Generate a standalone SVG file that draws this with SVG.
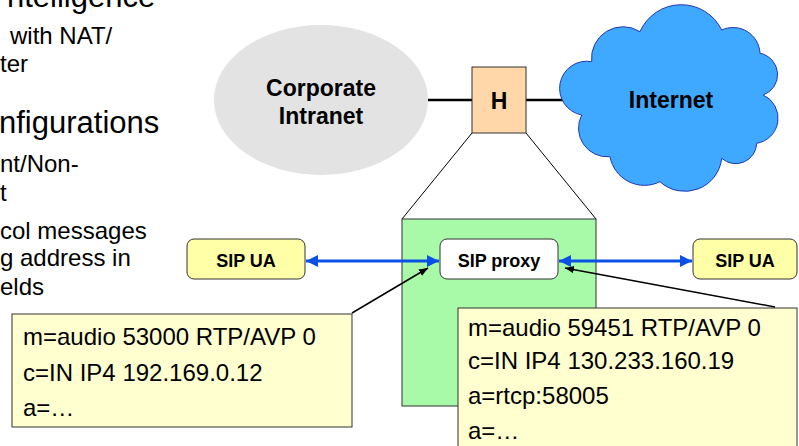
<svg xmlns="http://www.w3.org/2000/svg" width="799" height="446" viewBox="0 0 799 446">
<style>
.bt{font-family:"Liberation Sans",Arial,sans-serif;fill:#000}
.big{font-size:31px}
.sm{font-size:24px}
.lbl{font-family:"Liberation Sans",Arial,sans-serif;font-weight:bold;fill:#000;text-anchor:middle}
.sdp{font-family:"Liberation Sans",Arial,sans-serif;font-size:24px;fill:#000}
.box{stroke:#333;stroke-width:1}
.blue{stroke:#0a50e6;stroke-width:3;fill:none}
.blk{stroke:#000;stroke-width:1.5;fill:none}
</style>
<defs>
<marker id="bh" viewBox="0 0 10 10" refX="10" refY="5" markerWidth="4" markerHeight="4" orient="auto-start-reverse" markerUnits="strokeWidth">
<path d="M0,0 L10,5 L0,10 z" fill="#0a50e6"/>
</marker>
<marker id="kh" viewBox="0 0 10 10" refX="10" refY="5" markerWidth="6" markerHeight="6" orient="auto" markerUnits="strokeWidth">
<path d="M0,1 L10,5 L0,9 z" fill="#000"/>
</marker>
</defs>

<g id="bullets">
<text class="bt big" x="7" y="7">ntelligence</text>
<text class="bt sm" x="10" y="44">with NAT/</text>
<text class="bt sm" x="0" y="72">ter</text>
<text class="bt big" x="-1" y="133">nfigurations</text>
<text class="bt sm" x="0" y="172">nt/Non-</text>
<text class="bt sm" x="0" y="201">t</text>
<text class="bt sm" x="0" y="239">col messages</text>
<text class="bt sm" x="0" y="266">g address in</text>
<text class="bt sm" x="0" y="295">elds</text>
</g>

<g id="connectors">
<line x1="428" y1="100" x2="472" y2="100" stroke="#000" stroke-width="2.5"/>
<line x1="526" y1="100" x2="572" y2="100" stroke="#000" stroke-width="2.5"/>
<line x1="472" y1="133" x2="402" y2="219" stroke="#000" stroke-width="1"/>
<line x1="526" y1="133" x2="596" y2="219" stroke="#000" stroke-width="1"/>
</g>

<g id="corporate-intranet">
<ellipse cx="321" cy="100" rx="107" ry="75" fill="#e3e3e3"/>
<text class="lbl" x="321" y="96" font-size="23">Corporate</text>
<text class="lbl" x="321" y="124" font-size="23">Intranet</text>
</g>

<g id="internet">
<path d="M591.7,61.7 A31.5,31.5 0 0 1 640,31.7 A45,45 0 0 1 721.7,30 A27,27 0 0 1 760,53.3 A21.7,21.7 0 0 1 763.3,95 A25.5,25.5 0 0 1 756.7,143.3 A21,21 0 0 1 721.7,158.3 A37,37 0 0 1 660,181.7 A35,35 0 0 1 610,156.7 A28.7,28.7 0 0 1 581.7,115 A27,27 0 0 1 591.7,61.7 Z" fill="#3fa9ff" stroke="#2236b4" stroke-width="1"/>
<text class="lbl" x="671" y="108" font-size="23">Internet</text>
</g>

<g id="H">
<rect class="box" x="472" y="67" width="54" height="66" fill="#ffd7a8"/>
<text class="lbl" x="499" y="109" font-size="23">H</text>
</g>

<g id="proxy-host">
<rect class="box" x="402" y="219" width="194" height="187" fill="#a8faa8"/>
</g>

<g id="sip-proxy">
<rect class="box" x="440" y="239" width="118" height="40" rx="7" fill="#fff"/>
<text class="lbl" x="499" y="267" font-size="18">SIP proxy</text>
</g>

<g id="sip-ua-left">
<rect class="box" x="187" y="239" width="118" height="40" rx="7" fill="#ffffa8"/>
<text class="lbl" x="246" y="267" font-size="18">SIP UA</text>
</g>

<g id="sip-ua-right">
<rect class="box" x="693" y="239" width="104" height="40" rx="7" fill="#ffffa8"/>
<text class="lbl" x="745" y="267" font-size="18">SIP UA</text>
</g>

<g id="sdp-left">
<rect class="box" x="12" y="314" width="340" height="113" fill="#ffffd0"/>
<text class="sdp" x="23" y="345">m=audio 53000 RTP/AVP 0</text>
<text class="sdp" x="23" y="381">c=IN IP4 192.169.0.12</text>
<text class="sdp" x="23" y="416">a=…</text>
</g>

<g id="sdp-right">
<rect class="box" x="458" y="308" width="339" height="150" fill="#ffffd0"/>
<text class="sdp" x="468" y="336">m=audio 59451 RTP/AVP 0</text>
<text class="sdp" x="468" y="369">c=IN IP4 130.233.160.19</text>
<text class="sdp" x="468" y="404">a=rtcp:58005</text>
<text class="sdp" x="468" y="439">a=…</text>
</g>

<g id="arrows">
<line class="blue" x1="306" y1="261" x2="439" y2="261" marker-start="url(#bh)" marker-end="url(#bh)"/>
<line class="blue" x1="559" y1="261" x2="692" y2="261" marker-start="url(#bh)" marker-end="url(#bh)"/>
<line class="blk" x1="352" y1="313" x2="428" y2="268" marker-end="url(#kh)"/>
<line class="blk" x1="775" y1="307" x2="565" y2="268" marker-end="url(#kh)"/>
</g>
</svg>
